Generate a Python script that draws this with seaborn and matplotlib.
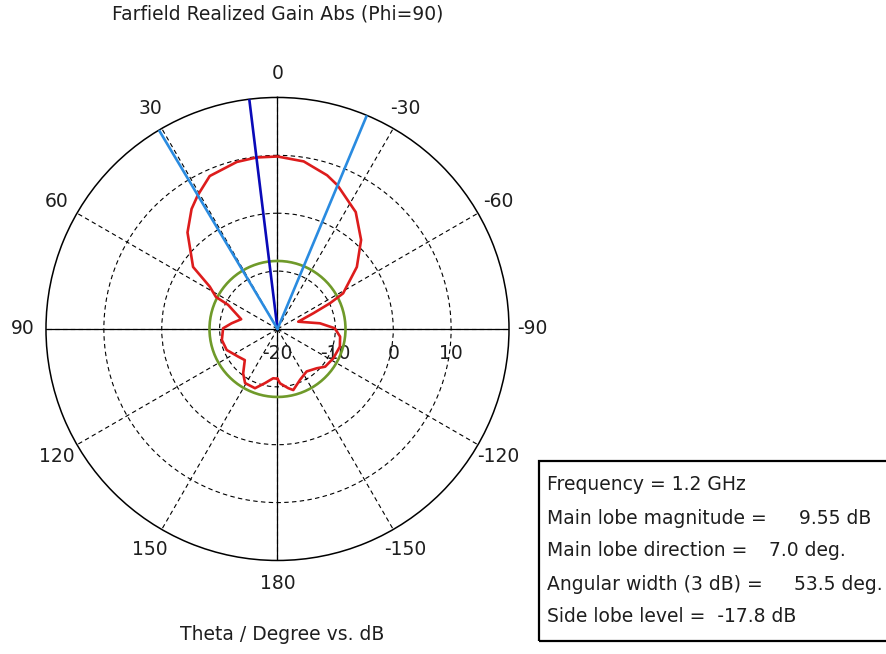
import numpy as np
import matplotlib
matplotlib.use("Agg")
import matplotlib.pyplot as plt
from matplotlib.patches import Rectangle
import seaborn as sns

# farfield cut, Phi=90
theta_deg = [-180, -177.4, -169.7, -165.5, -156, -145.6, -135, -128.4, -117.7,
             -105.8, -97, -89.3, -82.4, -70.7, -66.3, -63.9, -61.5, -52, -43.2,
             -33.8, -22.7, -17.9, -8.9, 0, 7, 13.7, 23.9, 30.8, 35.6, 43, 53.7,
             58, 62.5, 64, 75, 83, 89.3, 101.2, 112.5, 125.2, 133.6, 142.3,
             149.1, 159.2, 167, 175, 180]
gain_db = [-11.4, -10.6, -9.6, -9.1, -10.4, -11.1, -10.4, -9.5, -9.1,
           -8.8, -9.1, -10.1, -12.6, -16.2, -13.2, -9.9, -7.1, -2.6, 1.1,
           4.3, 6.9, 7.9, 9.3, 9.8, 9.85, 9.7, 8.9, 6.9, 5.5, 2.8, -1.9,
           -6.2, -8.0, -10.5, -13.5, -12.0, -10.6, -10.2, -10.5, -11.7, -12.2, -10.3,
           -9.1, -9.05, -10.4, -11.45, -11.4]

frequency_ghz = 1.2
main_lobe_mag = 9.55
main_lobe_dir = 7.0
beam_edges = [30.8, -22.7]
angular_width = 53.5
side_lobe_level = -17.8

theta_ticks = [0, 30, 60, 90, 120, 150, 180, 210, 240, 270, 300, 330]
theta_labels = ["0", "30", "60", "90", "120", "150", "180", "-150", "-120", "-90", "-60", "-30"]
r_ticks = [-20, -10, 0, 10]
r_min, r_max = -20, 20

sns.set_style("white")
plt.rcParams["font.family"] = ["DejaVu Sans"]
fs = 13.5
txt = "#1e1e1e"

fig = plt.figure(figsize=(8.86, 6.54), dpi=100)
ax = fig.add_axes([0.0519, 0.143, 0.5226, 0.708], projection="polar")
ax.set_theta_zero_location("N")
ax.set_theta_direction(1)
ax.set_ylim(r_min, r_max)

# grid: dashed rings and spokes
ax.set_xticks(np.deg2rad(theta_ticks))
ax.set_xticklabels([])
ax.set_yticks(r_ticks[1:])
ax.set_yticklabels([])
ax.grid(True, color="black", linestyle=(0, (4, 3)), linewidth=0.8)
ax.spines["polar"].set_color("black")
ax.spines["polar"].set_linewidth(1.1)

# solid cross through the centre
for a in [0, 90, 180, 270]:
    ax.plot([np.deg2rad(a)] * 2, [r_min, r_max], color="black", lw=0.9, zorder=2)

# theta labels outside the circle
for a, lab in zip(theta_ticks, theta_labels):
    ax.text(np.deg2rad(a), r_max + 4.06, lab, ha="center", va="center",
            fontsize=fs, color=txt, clip_on=False)

# radial labels below the -90 axis
for v in r_ticks:
    ax.annotate(str(v), xy=(np.deg2rad(270), v), xytext=(0, -25),
                textcoords="offset pixels", ha="center", va="center",
                fontsize=fs, color=txt)

th = np.deg2rad(theta_deg)
sns.lineplot(x=th, y=gain_db, sort=False, estimator=None, ax=ax,
             color="#dd1c1c", lw=1.9, zorder=5)

# side lobe level circle
sll = main_lobe_mag + side_lobe_level
circ = np.deg2rad(np.arange(0, 361, 2))
ax.plot(circ, [sll] * len(circ), color="#6f9a2a", lw=1.9, zorder=4)

# main lobe direction and 3 dB beam edges
ax.plot([np.deg2rad(main_lobe_dir)] * 2, [r_min, r_max], color="#0a0ab8", lw=1.9, zorder=6)
for e in beam_edges:
    ax.plot([np.deg2rad(e)] * 2, [r_min, r_max], color="#2a8be0", lw=1.9, zorder=6)

ax.set_xlabel("")
ax.set_ylabel("")

W, H = 886, 654
fig.text(277.5 / W, 1 - 14 / H, "Farfield Realized Gain Abs (Phi=90)",
         ha="center", va="center", fontsize=fs, color=txt)
fig.text(282 / W, 1 - 635 / H, "Theta / Degree vs. dB",
         ha="center", va="center", fontsize=fs, color=txt)

# info box
box = Rectangle((539 / W, 1 - 641 / H), 360 / W, 180 / H, transform=fig.transFigure,
                fill=False, edgecolor="black", lw=1.6, clip_on=False)
fig.patches.append(box)
rows = [
    ("Frequency = %.1f GHz" % frequency_ghz, None, None),
    ("Main lobe magnitude =", "%.2f dB" % main_lobe_mag, 799),
    ("Main lobe direction =", "%.1f deg." % main_lobe_dir, 769),
    ("Angular width (3 dB) =", "%.1f deg." % angular_width, 794),
    ("Side lobe level =  %.1f dB" % side_lobe_level, None, None),
]
for i, (lab, val, xv) in enumerate(rows):
    y = 1 - (485 + 33 * i) / H
    fig.text(547 / W, y, lab, ha="left", va="center", fontsize=fs, color=txt)
    if val:
        fig.text(xv / W, y, val, ha="left", va="center", fontsize=fs, color=txt)

fig.savefig("out.png", dpi=100)
